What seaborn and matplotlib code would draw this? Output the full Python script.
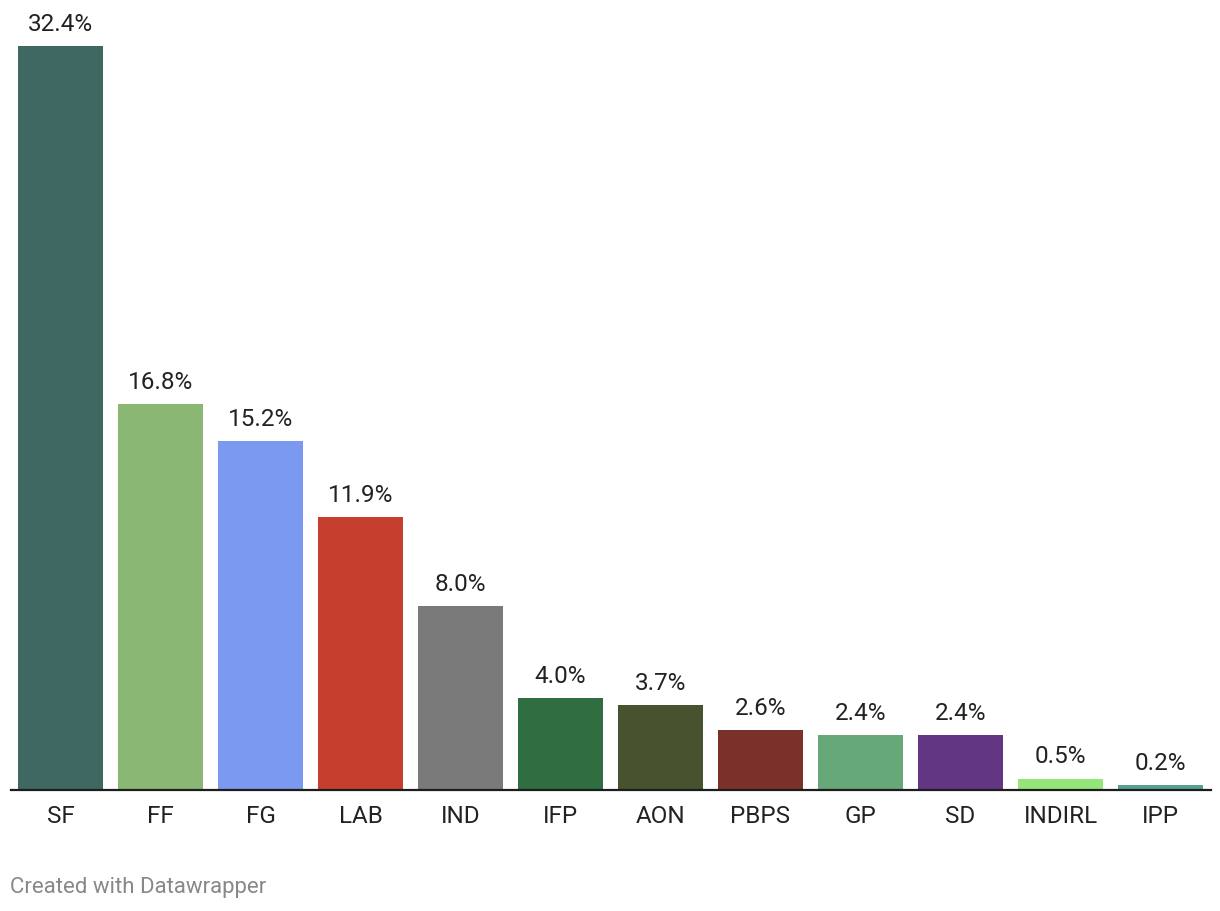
import matplotlib
matplotlib.use("Agg")
import matplotlib.pyplot as plt
import seaborn as sns
import pandas as pd

# Data
parties = ["SF", "FF", "FG", "LAB", "IND", "IFP", "AON", "PBPS", "GP", "SD", "INDIRL", "IPP"]
shares = [32.4, 16.8, 15.2, 11.9, 8.0, 4.0, 3.7, 2.6, 2.4, 2.4, 0.5, 0.2]
colors = ["#3f6862", "#8ab874", "#7b99f0", "#c63f2e", "#7a7a7a", "#2e6e40",
          "#47522e", "#7a3129", "#66a877", "#633683", "#95e679", "#58a08d"]

df = pd.DataFrame({"party": parties, "share": shares})

sns.set_style("white")
plt.rcParams["font.family"] = ["Roboto", "DejaVu Sans"]

fig = plt.figure(figsize=(12.2, 9.12), dpi=100)
ax = fig.add_axes([10.5 / 1220, 1 - 791 / 912, 1200 / 1220, (791 - 47) / 912])

sns.barplot(data=df, x="party", y="share", hue="party", palette=colors,
            width=0.85, legend=False, ax=ax, saturation=1, linewidth=0)

ax.set_xlim(-0.5, len(parties) - 0.5)
ax.set_ylim(0, max(shares))

# value labels
for i, v in enumerate(shares):
    ax.annotate(f"{v:.1f}%", (i, v), xytext=(0, 8), textcoords="offset points",
                ha="center", va="bottom", fontsize=17.5, color="#222222")

for s in ["top", "right", "left"]:
    ax.spines[s].set_visible(False)
ax.spines["bottom"].set_color("#1d1d1d")
ax.spines["bottom"].set_linewidth(1.6)

ax.set_yticks([])
ax.set_xlabel("")
ax.set_ylabel("")
ax.tick_params(axis="x", length=0, pad=10, labelsize=17.5, labelcolor="#222222")

fig.text(10 / 1220, 1 - 888 / 912, "Created with Datawrapper", fontsize=16,
         color="#888888", ha="left", va="center")

plt.savefig("out.png", dpi=100)
plt.close()
